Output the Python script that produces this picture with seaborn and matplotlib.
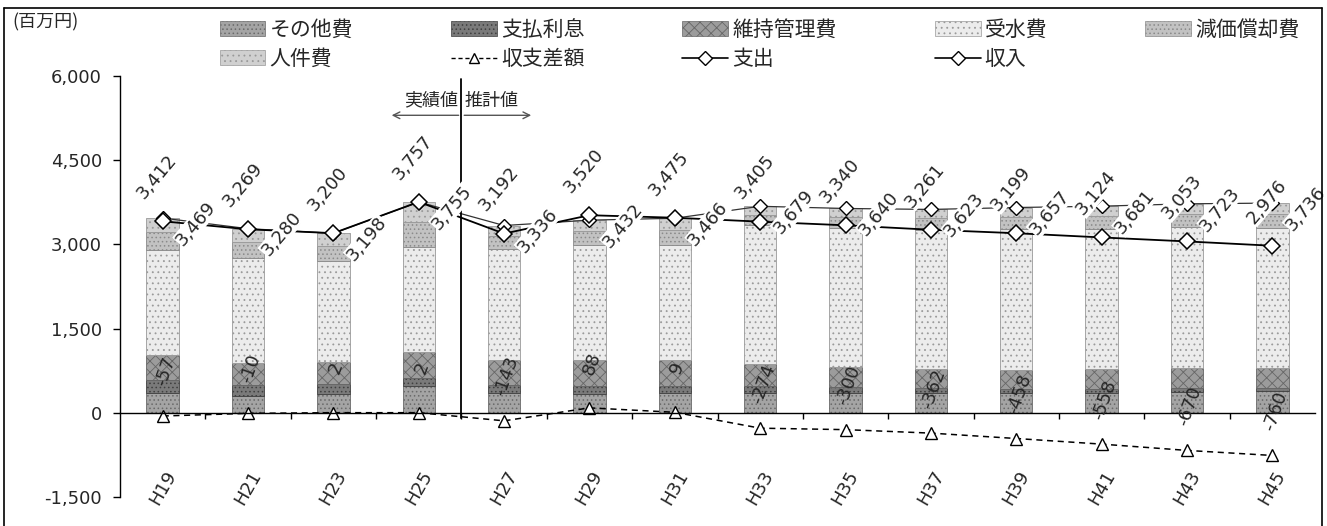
import numpy as np
import pandas as pd
import matplotlib
matplotlib.use('Agg')
import matplotlib.pyplot as plt
from matplotlib.patches import Patch
from matplotlib.lines import Line2D
import seaborn as sns

# data (百万円)
years = ['H19', 'H21', 'H23', 'H25', 'H27', 'H29', 'H31',
         'H33', 'H35', 'H37', 'H39', 'H41', 'H43', 'H45']
sonota = [360, 300, 340, 470, 350, 340, 350, 360, 360, 350, 350, 360, 370, 380]      # その他費
shiharai = [230, 200, 180, 150, 140, 130, 120, 110, 100, 90, 80, 70, 65, 60]         # 支払利息
iji = [433, 387, 385, 470, 457, 465, 477, 400, 356, 340, 338, 350, 363, 358]          # 維持管理費
jusui = [1886, 1873, 1793, 1865, 1969, 2047, 2049, 2479, 2484, 2483, 2509, 2501, 2505, 2498]  # 受水費
genka = [310, 290, 280, 450, 230, 250, 260, 180, 190, 200, 210, 220, 230, 240]       # 減価償却費
jinken = [250, 230, 220, 350, 190, 200, 210, 150, 150, 160, 170, 180, 190, 200]      # 人件費
shishutsu = [3469, 3280, 3198, 3755, 3336, 3432, 3466, 3679, 3640, 3623, 3657, 3681, 3723, 3736]  # 支出
shunyu = [3412, 3269, 3200, 3757, 3192, 3520, 3475, 3405, 3340, 3261, 3199, 3124, 3053, 2976]     # 収入
sagaku = [-57, -10, 2, 2, -143, 88, 9, -274, -300, -362, -458, -558, -670, -760]      # 収支差額

sns.set_theme(style='white')
plt.rcParams['font.family'] = ['Noto Sans CJK JP', 'DejaVu Sans']
plt.rcParams['hatch.linewidth'] = 0.6

df = pd.DataFrame({'year': years, 'その他費': sonota, '支払利息': shiharai, '維持管理費': iji,
                   '受水費': jusui, '減価償却費': genka, '人件費': jinken})

fig = plt.figure(figsize=(13.27, 5.26), dpi=100)
ax = fig.add_axes([120 / 1327, 1 - 497 / 526, 1195 / 1327, 421 / 526])

# stacked cost bars
styles = {
    'その他費': ('#a4a4a4', '#6a6a6a', '....'),
    '支払利息': ('#7a7a7a', '#404040', '....'),
    '維持管理費': ('#9c9c9c', '#666666', 'xxx'),
    '受水費': ('#ececec', '#9a9a9a', '...'),
    '減価償却費': ('#c2c2c2', '#8a8a8a', '....'),
    '人件費': ('#d0d0d0', '#999999', '...'),
}
bottom = np.zeros(len(years))
for col, (fc, ec, hatch) in styles.items():
    sns.barplot(data=df, x='year', y=col, bottom=bottom, color=fc, saturation=1,
                width=0.38, errorbar=None, edgecolor=ec, linewidth=0.6,
                hatch=hatch, ax=ax)
    bottom = bottom + df[col].values

pos = np.arange(len(years))

# lines
sns.lineplot(x=pos, y=shishutsu, color='#333333', lw=0.9, marker='D', markersize=7,
             markerfacecolor='white', markeredgecolor='black', markeredgewidth=1, ax=ax)
sns.lineplot(x=pos, y=shunyu, color='black', lw=1.3, marker='D', markersize=8,
             markerfacecolor='white', markeredgecolor='black', markeredgewidth=1.1, ax=ax)
sns.lineplot(x=pos, y=sagaku, color='black', lw=1.1, linestyle=(0, (4, 3)), marker='^',
             markersize=8, markerfacecolor='white', markeredgecolor='black',
             markeredgewidth=1, ax=ax)

# data labels
lab_kw = dict(textcoords='offset points', ha='center', va='center', rotation=50,
              fontsize=13, family=['DejaVu Sans'], zorder=6,
              bbox=dict(fc='white', ec='none', pad=0.3))
for i in range(len(years)):
    ax.annotate(f'{shunyu[i]:,}', (pos[i], shunyu[i]), xytext=(-4, 32), **lab_kw)
    ax.annotate(f'{shishutsu[i]:,}', (pos[i], shishutsu[i]), xytext=(24, -4), **lab_kw)
    ax.annotate(f'{sagaku[i]:,}', (pos[i], sagaku[i]), xytext=(2, 32),
                textcoords='offset points', ha='center', va='center', rotation=70,
                fontsize=13, family=['DejaVu Sans'], zorder=6)

# actual / estimate divider
div = years.index('H25') + 0.5
ax.plot([div, div], [-100, 5950], color='black', lw=1.3, zorder=5)
ax.annotate('', xy=(div - 0.85, 5300), xytext=(div, 5300),
            arrowprops=dict(arrowstyle='->', color='#555555', lw=1))
ax.annotate('', xy=(div + 0.85, 5300), xytext=(div, 5300),
            arrowprops=dict(arrowstyle='->', color='#555555', lw=1))
ax.text(div - 0.04, 5560, '実績値', ha='right', va='center', fontsize=13)
ax.text(div + 0.04, 5560, '推計値', ha='left', va='center', fontsize=13)

# axes
ax.set_xlim(-0.5, len(years) - 0.5)
ax.set_ylim(-1500, 6000)
ax.set_yticks([-1500, 0, 1500, 3000, 4500, 6000])
ax.set_yticklabels([f'{v:,}' for v in [-1500, 0, 1500, 3000, 4500, 6000]],
                   fontsize=13, family=['DejaVu Sans'])
ax.set_xlabel('')
ax.set_ylabel('')
ax.spines['top'].set_visible(False)
ax.spines['right'].set_visible(False)
ax.spines['left'].set_color('black')
ax.spines['left'].set_linewidth(1)
ax.spines['bottom'].set_position(('data', 0))
ax.spines['bottom'].set_color('black')
ax.spines['bottom'].set_linewidth(1)
ax.tick_params(axis='y', direction='out', length=5, width=1, color='black', left=True, pad=8)
ax.set_xticks(pos[:-1] + 0.5)
ax.set_xticklabels([])
ax.tick_params(axis='x', direction='out', length=4, width=1, color='black', bottom=True)
for i, y in enumerate(years):
    ax.text(pos[i], -1330, y, rotation=60, ha='center', va='center', fontsize=13,
            family=['DejaVu Sans'])

# legend
h = {}
for col, (fc, ec, hatch) in styles.items():
    h[col] = Patch(facecolor=fc, edgecolor=ec, hatch=hatch, linewidth=0.5)
h['収支差額'] = Line2D([], [], color='black', lw=1, linestyle=(0, (3, 2)), marker='^',
                   markersize=7, markerfacecolor='white', markeredgecolor='black')
h['支出'] = Line2D([], [], color='black', lw=1.2, marker='D', markersize=7,
                 markerfacecolor='white', markeredgecolor='black')
h['収入'] = Line2D([], [], color='black', lw=1.2, marker='D', markersize=7,
                 markerfacecolor='white', markeredgecolor='black')
order = ['その他費', '人件費', '支払利息', '収支差額', '維持管理費', '支出', '受水費', '収入', '減価償却費']
fig.legend([h[k] for k in order], order, ncol=5, loc='upper left',
           bbox_to_anchor=(205 / 1327, 1 - 4 / 526), frameon=False, fontsize=15,
           handlelength=2.2, handleheight=0.7, handletextpad=0.2, columnspacing=4.7,
           labelspacing=0.35, borderpad=0.2)
fig.text(12 / 1327, 1 - 22 / 526, '(百万円)', ha='left', va='center', fontsize=13)

# outer frame
fig.add_artist(Line2D([4 / 1327, 4 / 1327], [0, 1 - 8 / 526], color='black', lw=1.2))
fig.add_artist(Line2D([4 / 1327, 1322 / 1327], [1 - 8 / 526, 1 - 8 / 526], color='black', lw=1.2))
fig.add_artist(Line2D([1322 / 1327, 1322 / 1327], [0, 1 - 8 / 526], color='black', lw=1.2))

fig.savefig('out.png', dpi=100)
